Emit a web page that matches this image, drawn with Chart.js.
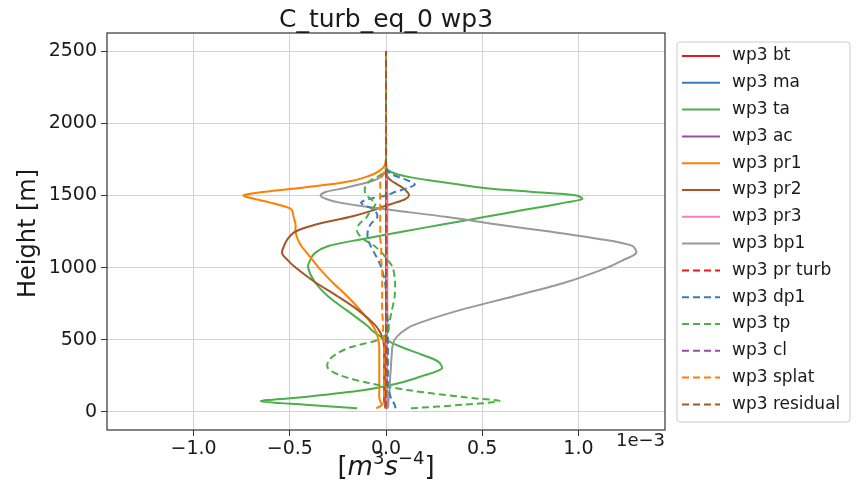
<!DOCTYPE html>
<html>
<head>
<meta charset="utf-8">
<script src="https://cdn.jsdelivr.net/npm/chart.js@4.4.1/dist/chart.umd.min.js"></script>
<style>
  html, body { margin: 0; padding: 0; background: #fff; }
</style>
</head>
<body>
<canvas id="wp3-chart" width="856" height="493"></canvas>
<script>
// heights in m, values in units of 1e-3 m^3 s^-4
const heights = [25, 50, 75, 100, 150, 200, 250, 300, 350, 400, 450, 500, 550, 600, 700, 800, 900, 1000, 1050, 1100,
  1150, 1200, 1250, 1300, 1350, 1400, 1425, 1450, 1475, 1500, 1525, 1550, 1575, 1600, 1625, 1650, 1675, 1700, 1750, 2000, 2500];

const wp3_bt = [0.004, 0.005, 0.005, 0.005, 0.005, 0.005, 0.005, 0.005, 0.005, 0.005, 0.005, 0.005, 0.005, 0.006, 0.006, 0.006, 0.006, 0.006, 0.006, 0.006,
  0.006, 0.006, 0.006, 0.006, 0.006, 0.006, 0.006, 0.006, 0.006, 0.006, 0.005, 0.005, 0.005, 0.004, 0.004, 0.003, 0.002, 0.001, 0, 0, 0];
const wp3_ma = [0.003, 0.002, 0.002, 0.002, 0.002, 0.002, 0.002, 0.002, 0.002, 0.002, 0.002, 0.002, 0.002, 0.002, 0.002, 0.002, 0.002, 0.002, 0.002, 0.002,
  0.002, 0.002, 0.002, 0.002, 0.002, 0.002, 0.002, 0.002, 0.002, 0.002, 0.002, 0.002, 0.002, 0.002, 0.001, 0.001, 0.001, 0, 0, 0, 0];
const wp3_ta = [-0.15, -0.42, -0.65, -0.45, -0.12, 0.07, 0.19, 0.29, 0.27, 0.18, 0.08, 0.0, -0.06, -0.10, -0.20, -0.30, -0.37, -0.405, -0.395, -0.37,
  -0.30, -0.11, 0.09, 0.30, 0.51, 0.72, 0.83, 0.93, 1.02, 0.99, 0.75, 0.52, 0.38, 0.25, 0.13, 0.05, 0.01, 0.0, 0, 0, 0];
const wp3_ac = [0, 0, 0, 0, 0, 0, 0, 0, 0, 0, 0, 0, 0, 0, 0, 0, 0, 0, 0, 0,
  0, 0, 0, 0, 0, 0, 0, 0, 0, 0, 0, 0, 0, 0, 0, 0, 0, 0, 0, 0, 0];
const wp3_pr1 = [-0.05, -0.02, -0.03, -0.035, -0.035, -0.035, -0.035, -0.035, -0.035, -0.035, -0.035, -0.04, -0.05, -0.07, -0.13, -0.20, -0.28, -0.35, -0.38, -0.41,
  -0.44, -0.46, -0.47, -0.47, -0.48, -0.49, -0.53, -0.60, -0.68, -0.74, -0.63, -0.46, -0.30, -0.18, -0.11, -0.06, -0.03, -0.01, 0, 0, 0];
const wp3_pr2 = [0.0, -0.005, -0.01, -0.01, -0.01, -0.01, -0.01, -0.01, -0.01, -0.01, -0.01, -0.015, -0.03, -0.055, -0.14, -0.25, -0.37, -0.47, -0.51, -0.54,
  -0.53, -0.51, -0.47, -0.36, -0.19, -0.06, -0.01, 0.05, 0.10, 0.12, 0.11, 0.09, 0.06, 0.03, 0.01, 0.0, 0, 0, 0, 0, 0];
const wp3_pr3 = [0.004, 0.004, 0.004, 0.004, 0.004, 0.004, 0.004, 0.004, 0.004, 0.004, 0.004, 0.004, 0.004, 0.004, 0.004, 0.004, 0.004, 0.004, 0.004, 0.004,
  0.004, 0.004, 0.004, 0.004, 0.004, 0.004, 0.004, 0.004, 0.004, 0.004, 0.004, 0.004, 0.003, 0.003, 0.002, 0.002, 0.001, 0, 0, 0, 0];
const wp3_bp1 = [0.01, 0.012, 0.013, 0.015, 0.018, 0.02, 0.022, 0.025, 0.027, 0.03, 0.033, 0.045, 0.08, 0.14, 0.37, 0.66, 0.94, 1.15, 1.23, 1.30,
  1.28, 1.10, 0.85, 0.57, 0.32, 0.02, -0.12, -0.24, -0.31, -0.34, -0.31, -0.22, -0.14, -0.07, -0.03, -0.01, 0, 0, 0, 0, 0];
const wp3_pr_turb = [0, 0, 0, 0, 0, 0, 0, 0, 0, 0, 0, 0, 0, 0, 0, 0, 0, 0, 0, 0,
  0, 0, 0, 0, 0, 0, 0, 0, 0, 0, 0, 0, 0, 0, 0, 0, 0, 0, 0, 0, 0];
const wp3_dp1 = [0.05, 0.045, 0.035, 0.025, 0.015, 0.01, 0.01, 0.01, 0.01, 0.01, 0.01, 0.01, 0.01, 0.01, 0.005, 0.0, -0.005, -0.025, -0.04, -0.06,
  -0.08, -0.095, -0.095, -0.08, -0.045, -0.06, -0.10, -0.13, -0.09, 0.0, 0.05, 0.11, 0.15, 0.12, 0.07, 0.025, 0.005, 0, 0, 0, 0];
const wp3_tp = [0.13, 0.40, 0.59, 0.42, 0.12, -0.09, -0.23, -0.30, -0.30, -0.26, -0.18, -0.04, 0.01, 0.015, 0.03, 0.045, 0.047, 0.035, 0.01, -0.02,
  -0.06, -0.12, -0.15, -0.14, -0.10, -0.08, -0.06, -0.055, -0.08, -0.10, -0.11, -0.11, -0.10, -0.085, -0.05, -0.02, -0.005, 0, 0, 0, 0];
const wp3_cl = [0, 0, 0, 0, 0, 0, 0, 0, 0, 0, 0, 0, 0, 0, 0, 0, 0, 0, 0, 0,
  0, 0, 0, 0, 0, 0, 0, 0, 0, 0, 0, 0, 0, 0, 0, 0, 0, 0, 0, 0, 0];
const wp3_splat = [0, -0.005, -0.01, -0.01, -0.01, -0.01, -0.01, -0.01, -0.01, -0.01, -0.01, -0.012, -0.015, -0.015, -0.02, -0.02, -0.02, -0.02, -0.025, -0.025,
  -0.025, -0.03, -0.03, -0.03, -0.03, -0.03, -0.03, -0.03, -0.03, -0.03, -0.03, -0.03, -0.03, -0.03, -0.025, -0.015, -0.005, 0, 0, 0, 0];
const wp3_residual = [-0.004, -0.003, -0.002, -0.002, 0.001, 0.002, 0.001, 0.001, 0.002, 0.001, 0.001, 0.002, 0.002, 0.001, 0.002, 0.002, 0.001, 0.002, 0.002, 0.002,
  0.002, 0.001, 0.002, 0.002, 0.002, 0.001, 0.002, 0.002, 0.002, 0.002, 0.001, 0.002, 0.001, 0.001, 0.001, 0.001, 0, 0, 0, 0, 0];

const seriesLabels = ['wp3 bt', 'wp3 ma', 'wp3 ta', 'wp3 ac', 'wp3 pr1', 'wp3 pr2', 'wp3 pr3', 'wp3 bp1',
  'wp3 pr turb', 'wp3 dp1', 'wp3 tp', 'wp3 cl', 'wp3 splat', 'wp3 residual'];
const seriesValues = [wp3_bt, wp3_ma, wp3_ta, wp3_ac, wp3_pr1, wp3_pr2, wp3_pr3, wp3_bp1,
  wp3_pr_turb, wp3_dp1, wp3_tp, wp3_cl, wp3_splat, wp3_residual];

const xTicks = [-1.0, -0.5, 0.0, 0.5, 1.0];
const yTicks = [0, 500, 1000, 1500, 2000, 2500];

// styling
const colors = ['#e41a1c', '#377eb8', '#4daf4a', '#984ea3', '#ff7f00', '#a65628', '#f781bf', '#999999',
  '#e41a1c', '#377eb8', '#4daf4a', '#984ea3', '#ff7f00', '#a65628'];
const dashes = [0, 0, 0, 0, 0, 0, 0, 0, 1, 1, 1, 1, 1, 1];
const FONT = "'DejaVu Sans', 'Liberation Sans', sans-serif";
const TXT = '#1a1a1a';
const DASH = [7, 4];

const minus = s => s.replace('-', '\u2212');

const datasets = seriesLabels.map((label, i) => ({
  label: label,
  data: heights.map((h, k) => ({ x: seriesValues[i][k], y: h })),
  borderColor: colors[i],
  backgroundColor: colors[i],
  borderWidth: 2,
  borderDash: dashes[i] ? DASH : [],
  pointRadius: 0,
  showLine: true,
  tension: 0.3,
  order: -i
}));

const decorations = {
  id: 'decorations',
  afterDraw(chart) {
    const ctx = chart.ctx;
    const a = chart.chartArea;
    ctx.save();

    // frame
    ctx.strokeStyle = '#333';
    ctx.lineWidth = 1.2;
    ctx.strokeRect(a.left, a.top, a.right - a.left, a.bottom - a.top);

    ctx.fillStyle = TXT;
    // title
    ctx.font = '25px ' + FONT;
    ctx.textAlign = 'center';
    ctx.textBaseline = 'alphabetic';
    ctx.fillText('C_turb_eq_0 wp3', (a.left + a.right) / 2, 27);

    // y label
    ctx.save();
    ctx.translate(29, (a.top + a.bottom) / 2 + 2);
    ctx.rotate(-Math.PI / 2);
    ctx.font = '24px ' + FONT;
    ctx.textBaseline = 'middle';
    ctx.fillText('Height [m]', 0, 0);
    ctx.restore();

    // x label [m^3 s^-4]
    const parts = [
      { t: '[', f: '26px ' + FONT, dy: 0 },
      { t: 'm', f: 'italic 26px ' + FONT, dy: 0 },
      { t: '3', f: '18px ' + FONT, dy: -11 },
      { t: 's', f: 'italic 26px ' + FONT, dy: 0 },
      { t: '\u22124', f: '18px ' + FONT, dy: -11 },
      { t: ']', f: '26px ' + FONT, dy: 0 }
    ];
    let total = 0;
    parts.forEach(p => { ctx.font = p.f; p.w = ctx.measureText(p.t).width; total += p.w; });
    let px = (a.left + a.right) / 2 - total / 2;
    ctx.textAlign = 'left';
    parts.forEach(p => { ctx.font = p.f; ctx.fillText(p.t, px, 475 + p.dy); px += p.w; });

    // offset text
    ctx.font = '18px ' + FONT;
    ctx.textAlign = 'right';
    ctx.fillText('1e\u22123', a.right, 446);

    // legend
    const lx = 677, ly = 42, lw = 173, lh = 380;
    ctx.beginPath();
    ctx.roundRect(lx, ly, lw, lh, 3);
    ctx.fillStyle = 'rgba(255,255,255,0.8)';
    ctx.fill();
    ctx.strokeStyle = '#cccccc';
    ctx.lineWidth = 1;
    ctx.stroke();
    ctx.font = '17px ' + FONT;
    ctx.textAlign = 'left';
    ctx.textBaseline = 'middle';
    seriesLabels.forEach((label, i) => {
      const y = 56 + i * 26.8;
      ctx.beginPath();
      ctx.setLineDash(dashes[i] ? DASH : []);
      ctx.strokeStyle = colors[i];
      ctx.lineWidth = 2;
      ctx.moveTo(682, y);
      ctx.lineTo(720, y);
      ctx.stroke();
      ctx.setLineDash([]);
      ctx.fillStyle = TXT;
      ctx.fillText(label, 732, y);
    });
    ctx.restore();
  }
};

const config = {
  type: 'scatter',
  data: { datasets: datasets },
  options: {
    responsive: false,
    animation: false,
    devicePixelRatio: 1,
    layout: { padding: { left: 0, top: 33, right: 191, bottom: 0 } },
    plugins: { legend: { display: false }, tooltip: { enabled: false } },
    scales: {
      x: {
        type: 'linear',
        min: -1.45,
        max: 1.45,
        afterBuildTicks: s => { s.ticks = xTicks.map(v => ({ value: v })); },
        afterFit: s => { s.height = 63; },
        ticks: {
          callback: v => minus(v.toFixed(1)),
          font: { family: FONT, size: 19 },
          color: TXT,
          padding: 2,
          maxRotation: 0,
          autoSkip: false
        },
        grid: { color: '#d3d3d3', lineWidth: 1, tickLength: 6, tickColor: '#333' },
        border: { display: false }
      },
      y: {
        type: 'linear',
        min: -125,
        max: 2625,
        afterBuildTicks: s => { s.ticks = yTicks.map(v => ({ value: v })); },
        afterFit: s => { s.width = 107; },
        ticks: {
          callback: v => String(v),
          font: { family: FONT, size: 19 },
          color: TXT,
          padding: 4,
          autoSkip: false
        },
        grid: { color: '#d3d3d3', lineWidth: 1, tickLength: 6, tickColor: '#333' },
        border: { display: false }
      }
    }
  },
  plugins: [decorations]
};

let obj = document.getElementById('wp3-chart');
let wp3Chart = new Chart(obj, config);
</script>
</body>
</html>
